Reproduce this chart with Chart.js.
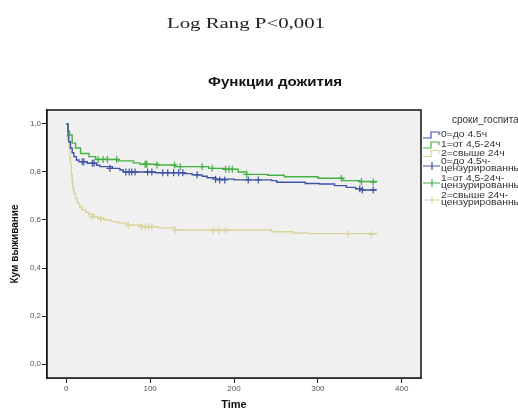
<!DOCTYPE html>
<html>
<head>
<meta charset="utf-8">
<script src="https://cdn.jsdelivr.net/npm/chart.js@4"></script>
<style>
    html, body { margin: 0; padding: 0; background: #fff; }
</style>
</head>
<body>
<canvas id="km" width="518" height="413"></canvas>
<script>
// Kaplan-Meier data
const blueTimes = [0, 2, 3, 5, 7, 9, 12, 15, 25, 36, 40, 55, 64, 68, 106, 140, 150, 162, 168, 178, 200, 245, 251, 285, 302, 320, 334, 345, 352, 370];
const blueSurv  = [1.0, 0.95, 0.926, 0.90, 0.88, 0.864, 0.85, 0.843, 0.836, 0.828, 0.822, 0.815, 0.808, 0.80, 0.797, 0.793, 0.788, 0.782, 0.776, 0.77, 0.767, 0.764, 0.757, 0.752, 0.75, 0.743, 0.736, 0.73, 0.725, 0.725];
const blueCensT = [19, 21, 31, 33, 52, 71, 75, 78, 82, 97, 102, 115, 121, 128, 134, 139, 156, 178, 183, 189, 217, 229, 350, 353, 366];
const blueCensS = [0.843, 0.843, 0.836, 0.836, 0.815, 0.80, 0.80, 0.80, 0.80, 0.80, 0.80, 0.797, 0.797, 0.797, 0.797, 0.797, 0.788, 0.77, 0.767, 0.767, 0.767, 0.767, 0.73, 0.725, 0.725];

const greenTimes = [0, 2, 4, 7, 11, 17, 27, 35, 62, 80, 88, 110, 130, 170, 190, 205, 215, 240, 260, 300, 330, 350, 370];
const greenSurv  = [1.0, 0.97, 0.954, 0.92, 0.90, 0.877, 0.864, 0.852, 0.846, 0.838, 0.832, 0.829, 0.822, 0.815, 0.811, 0.80, 0.79, 0.786, 0.78, 0.774, 0.764, 0.76, 0.758];
const greenCensT = [38, 44, 49, 60, 94, 95, 96, 108, 129, 136, 162, 174, 190, 194, 198, 215, 328, 352, 366];
const greenCensS = [0.852, 0.852, 0.852, 0.852, 0.832, 0.832, 0.832, 0.829, 0.829, 0.822, 0.822, 0.815, 0.811, 0.811, 0.811, 0.79, 0.774, 0.76, 0.758];

const beigeTimes = [0, 2, 3, 4, 5, 6, 7, 8, 9, 11, 13, 16, 19, 23, 27, 33, 38, 45, 54, 62, 72, 90, 110, 130, 245, 270, 290, 370];
const beigeSurv  = [1.0, 0.93, 0.90, 0.86, 0.83, 0.79, 0.76, 0.73, 0.711, 0.69, 0.67, 0.655, 0.642, 0.632, 0.623, 0.613, 0.607, 0.60, 0.593, 0.587, 0.579, 0.572, 0.567, 0.558, 0.551, 0.546, 0.543, 0.54];
const beigeCensT = [31, 41, 74, 90, 94, 98, 102, 130, 175, 182, 190, 336, 364];
const beigeCensS = [0.613, 0.605, 0.579, 0.572, 0.572, 0.572, 0.572, 0.558, 0.556, 0.556, 0.556, 0.543, 0.54];

const xTicks = [0, 100, 200, 300, 400];
const yTicks = [0.0, 0.2, 0.4, 0.6, 0.8, 1.0];

const groupNames = ['0=до 4.5ч', '1=от 4,5-24ч', '2=свыше 24ч'];
const censNames = [['0=до 4.5ч-', 'цензурированные'], ['1=от 4,5-24ч-', 'цензурированные'], ['2=свыше 24ч-', 'цензурированные']];
const colors = ['#3f52a3', '#45b045', '#d8d49c'];

function pts(t, s) {
    return t.map((v, i) => ({ x: v, y: s[i] }));
}

function curve(t, s, col) {
    return { data: pts(t, s), showLine: true, stepped: 'before', borderColor: col, borderWidth: 1.4, pointRadius: 0, fill: false };
}

function marks(t, s, col) {
    return { data: pts(t, s), showLine: false, pointStyle: 'cross', pointRadius: 3.5, borderColor: col, borderWidth: 1.2, backgroundColor: col };
}

// text stretched to a given width, like in the picture
function stretchText(c, txt, cx, cy, w) {
    const m = c.measureText(txt).width;
    c.save();
    c.translate(cx, cy);
    c.scale(w / m, 1);
    c.fillText(txt, 0, 0);
    c.restore();
}

// legend text, a bit wider than the font
function wideText(c, txt, x, y) {
    c.save();
    c.translate(x, y);
    c.scale(1.15, 1);
    c.fillText(txt, 0, 0);
    c.restore();
}

// фон, рамка и подписи
const decor = {
    id: 'decor',
    beforeDatasetsDraw(chart) {
        const c = chart.ctx, a = chart.chartArea;
        c.save();
        c.fillStyle = '#f0f0f0';
        c.fillRect(a.left, a.top, a.right - a.left, a.bottom - a.top);
        c.restore();
    },
    afterDraw(chart) {
        const c = chart.ctx, a = chart.chartArea;
        c.save();
        c.strokeStyle = '#111';
        c.lineWidth = 1.5;
        c.strokeRect(a.left, a.top, a.right - a.left, a.bottom - a.top);

        c.fillStyle = '#222';
        c.textAlign = 'center';
        c.textBaseline = 'alphabetic';
        c.font = '15px "Liberation Serif"';
        stretchText(c, 'Log Rang P<0,001', 246, 28, 158);
        c.fillStyle = '#111';
        c.font = 'bold 12px "Liberation Sans"';
        stretchText(c, 'Функции дожития', 275, 86, 134);

        // legend
        c.textAlign = 'left';
        c.textBaseline = 'middle';
        c.fillStyle = '#333';
        c.font = '10px "Liberation Sans"';
        c.fillText('сроки_госпитализации', 452, 120);
        c.font = '9px "Liberation Sans"';
        const lineY = [135, 145, 153.5];
        lineY.forEach((y, i) => {
            c.strokeStyle = colors[i];
            c.lineWidth = 1.2;
            c.beginPath();
            c.moveTo(423, y + 3);
            c.lineTo(431, y + 3);
            c.lineTo(431, y - 3);
            c.lineTo(439, y - 3);
            c.lineTo(439, y);
            c.stroke();
            wideText(c, groupNames[i], 441, y);
        });
        const censY = [162, 179, 196];
        censY.forEach((y, i) => {
            c.strokeStyle = colors[i];
            c.lineWidth = 1.2;
            c.beginPath();
            c.moveTo(423, y + 4);
            c.lineTo(440, y + 4);
            c.moveTo(432, y);
            c.lineTo(432, y + 8);
            c.stroke();
            wideText(c, censNames[i][0], 441, y);
            wideText(c, censNames[i][1], 441, y + 6.5);
        });
        c.restore();
    }
};

const ctx = document.getElementById('km').getContext('2d');
new Chart(ctx, {
    type: 'scatter',
    data: {
        datasets: [
            curve(blueTimes, blueSurv, colors[0]),
            curve(greenTimes, greenSurv, colors[1]),
            curve(beigeTimes, beigeSurv, colors[2]),
            marks(blueCensT, blueCensS, colors[0]),
            marks(greenCensT, greenCensS, colors[1]),
            marks(beigeCensT, beigeCensS, colors[2])
        ]
    },
    options: {
        responsive: false,
        animation: false,
        layout: { padding: { top: 110, right: 97, left: 0, bottom: 0 } },
        plugins: { legend: { display: false }, tooltip: { enabled: false } },
        scales: {
            x: {
                type: 'linear',
                min: -23,
                max: 423,
                afterBuildTicks: s => { s.ticks = xTicks.map(v => ({ value: v })); },
                afterFit: s => { s.height = 35; },
                ticks: { color: '#555', font: { size: 8, family: 'Liberation Sans' }, padding: 1 },
                grid: { drawOnChartArea: false, drawTicks: true, tickLength: 5, color: '#222' },
                border: { display: true, color: '#111', width: 1.5 },
                title: { display: true, text: 'Time', color: '#111', font: { size: 11, weight: 'bold', family: 'Liberation Sans' }, padding: { top: 0, bottom: 1 } }
            },
            y: {
                type: 'linear',
                min: -0.058,
                max: 1.058,
                afterBuildTicks: s => { s.ticks = yTicks.map(v => ({ value: v })); },
                afterFit: s => { s.width = 47; },
                ticks: {
                    color: '#555',
                    font: { size: 8, family: 'Liberation Sans' },
                    padding: 1,
                    callback: v => v.toFixed(1).replace('.', ',')
                },
                grid: { drawOnChartArea: false, drawTicks: true, tickLength: 5, color: '#222' },
                border: { display: true, color: '#111', width: 1.5 },
                title: { display: true, text: 'Кум выживание', color: '#111', font: { size: 10, weight: 'bold', family: 'Liberation Sans' }, padding: { top: 9, bottom: 4 } }
            }
        }
    },
    plugins: [decor]
});
</script>
</body>
</html>
